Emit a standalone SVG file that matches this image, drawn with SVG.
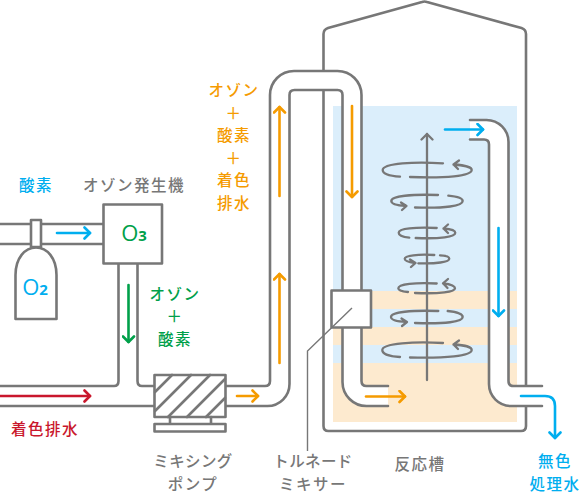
<svg xmlns="http://www.w3.org/2000/svg" width="582" height="494" viewBox="0 0 582 494">
<style>
.g{fill:none;stroke:#777;stroke-width:2.6;stroke-linecap:round;stroke-linejoin:round}
.gf{fill:#fff;stroke:#777;stroke-width:2.6;stroke-linejoin:round}
.w{fill:#fff;stroke:none}
.s{fill:none;stroke:#777;stroke-width:2.3;stroke-linecap:round;stroke-linejoin:round}
.a{fill:none;stroke-width:2.6;stroke-linecap:round;stroke-linejoin:round}
text{font-family:"Noto Sans CJK JP","Noto Sans",sans-serif;font-size:15.5px;font-weight:500;text-anchor:middle;letter-spacing:1.500px}
.tight{letter-spacing:.4px}
.tg{fill:#777}.tc{fill:#00aeef}.to{fill:#f59b00}.tn{fill:#00a04a}.tr{fill:#c9172c}
.en{font-family:"Open Sans","Noto Sans",sans-serif;font-size:22px;letter-spacing:0;font-weight:500}
.sub{font-size:15px;font-weight:700}
</style>
<defs>
<marker id="mo" markerUnits="userSpaceOnUse" markerWidth="14" markerHeight="14" refX="8.500" refY="7" orient="auto"><path d="M3 1.500L8.500 7L3 12.500" fill="none" stroke="#f59b00" stroke-width="2.6" stroke-linecap="round" stroke-linejoin="round"/></marker>
<marker id="mc" markerUnits="userSpaceOnUse" markerWidth="14" markerHeight="14" refX="8.500" refY="7" orient="auto"><path d="M3 1.500L8.500 7L3 12.500" fill="none" stroke="#00aeef" stroke-width="2.6" stroke-linecap="round" stroke-linejoin="round"/></marker>
<marker id="mn" markerUnits="userSpaceOnUse" markerWidth="14" markerHeight="14" refX="8.500" refY="7" orient="auto"><path d="M3 1.500L8.500 7L3 12.500" fill="none" stroke="#00a04a" stroke-width="2.6" stroke-linecap="round" stroke-linejoin="round"/></marker>
<marker id="mr" markerUnits="userSpaceOnUse" markerWidth="14" markerHeight="14" refX="8.500" refY="7" orient="auto"><path d="M3 1.500L8.500 7L3 12.500" fill="none" stroke="#c9172c" stroke-width="2.6" stroke-linecap="round" stroke-linejoin="round"/></marker>
<marker id="mg" markerUnits="userSpaceOnUse" markerWidth="14" markerHeight="14" refX="8.500" refY="7" orient="auto"><path d="M3 1.500L8.500 7L3 12.500" fill="none" stroke="#777" stroke-width="2.3" stroke-linecap="round" stroke-linejoin="round"/></marker>
</defs>
<rect width="582" height="494" fill="#fff"/>

<g id="reactor">
<path class="g" d="M323.500 75V34Q323.500 29.500 328 28L422 2Q424.500 1 427 2L521.500 28Q526 29.500 526 34V426Q526 431 521 431H328.500Q323.500 431 323.500 426V85"/>
<rect x="333" y="106" width="184" height="185" fill="#dbeefb"/>
<rect x="333" y="291" width="184" height="18" fill="#fdeacf"/>
<rect x="333" y="309" width="184" height="18" fill="#dbeefb"/>
<rect x="333" y="327" width="184" height="18" fill="#fdeacf"/>
<rect x="333" y="345" width="184" height="18" fill="#dbeefb"/>
<rect x="333" y="363" width="184" height="59" fill="#fdeacf"/>
</g>

<g id="piping">
<path class="w" d="M225 386H265Q270 386 270 381V95A24 24 0 0 1 294 71H337.500A24 24 0 0 1 361.500 95V381Q361.500 386 366.500 386H388V406H366.500A24 24 0 0 1 342.500 382V95Q342.500 90 337.500 90H294.500Q289.500 90 289.500 95V384A22 22 0 0 1 267.500 406H225Z"/>
<path class="w" d="M470 120H486.500A22 22 0 0 1 508.500 142V381Q508.500 386 513.500 386H542V406H511A22 22 0 0 1 489 384V144.500Q489 139.500 484 139.500H470Z"/>
<path class="g" d="M225 386H265Q270 386 270 381V95A24 24 0 0 1 294 71H337.500A24 24 0 0 1 361.500 95V290"/>
<path class="g" d="M225 406H267.500A22 22 0 0 0 289.500 384V95Q289.500 90 294.500 90H337.500Q342.500 90 342.500 95V290"/>
<path class="g" d="M361.500 327V381Q361.500 386 366.500 386H388"/>
<path class="g" d="M342.500 327V382A24 24 0 0 0 366.500 406H388"/>
<path class="g" d="M470 120H486.500A22 22 0 0 1 508.500 142V381Q508.500 386 513.500 386H542"/>
<path class="g" d="M470 139.500H484Q489 139.500 489 144.500V384A22 22 0 0 0 511 406H542"/>
<path class="g" d="M0 224H103M0 244H103"/>
<path class="g" d="M0 386H114Q118.500 386 118.500 381V263"/>
<path class="g" d="M137.500 263V381Q137.500 386 142 386H154"/>
<path class="g" d="M0 406H154"/>
</g>

<g id="tornado-mixer">
<rect class="gf" x="331.500" y="290.500" width="39.500" height="37"/>
<path d="M352 308L307.500 351V451" fill="none" stroke="#777" stroke-width="1.400"/>
</g>

<g id="agitator">
<path class="s" d="M427 380V134" marker-end="url(#mg)"/>
<path class="s" d="M443 163.300C415 161.500 383 163 382.700 170C382.700 174 390 176 400 176.700"/>
<path class="s" d="M410 177C445 178.500 471.700 176 471.700 170C471.700 167 463 165 453.500 164.500M459 160.500L453.500 164.500L458 169"/>
<path class="s" d="M438 195C412 194 391.300 196 391.300 201C391.300 204 397 205.500 406 206M402 210L406.500 206L401 202.500"/>
<path class="s" d="M415 207.500C445 208.500 462.700 206 462.700 201C462.700 198 457 196.500 448.300 195.700"/>
<path class="s" d="M436.700 228C415 227 398.700 228.500 398.700 232.700C398.700 235.500 403 237 409.300 237.700"/>
<path class="s" d="M415.700 238C440 239 455.300 237 455.300 232.700C455.300 230.500 450 229 443.500 228.500M448 224.500L443.500 228.500L448 233"/>
<path class="s" d="M434.300 255C418 254 404.700 255.500 404.700 258.700C404.700 260.500 408 262 415 263M411 267L415.500 263L410 259.500"/>
<path class="s" d="M418.300 263.300C436 264 449.300 262 449.300 258.700C449.300 256.500 446 255.500 440 255.300"/>
<path class="s" d="M436.700 283.500C415 282.500 398.300 284 398.300 288.300C398.300 290.500 402 291.500 408 292"/>
<path class="s" d="M415 293C440 294 455 292 455 288.300C455 286 450 284 443 283.300M448 279L443 283.300L447.500 288"/>
<path class="s" d="M438.300 311C412 310 391 312 391 317C391 320 397 321.500 406.700 322M402 326L407 322L401.500 318.500"/>
<path class="s" d="M415 323C445 324 462.700 322 462.700 317C462.700 314 457 312 447.700 311"/>
<path class="s" d="M443 343C415 341.500 382.300 343 382.300 350C382.300 354 390 356.500 400 357"/>
<path class="s" d="M410 357.500C445 358.500 471.700 356 471.700 350C471.700 347 464 345 453.500 344.500M459 340.500L453.500 344.500L458 349"/>
</g>

<g id="ozone-generator">
<rect class="gf" x="103.500" y="204.500" width="58.500" height="59"/>
<text class="en tn" x="134" y="241">O<tspan class="sub">3</tspan></text>
</g>

<g id="oxygen-cylinder">
<path class="gf" d="M15.500 319V275C15.500 258 25 247.500 36 247.500C47 247.500 56.500 258 56.500 275V319Z"/>
<rect class="gf" x="31" y="220" width="10" height="27"/>
<text class="en tc" x="35" y="295">O<tspan class="sub">2</tspan></text>
</g>

<g id="mixing-pump">
<rect class="gf" x="154.500" y="375" width="71" height="42"/>
<path class="g" d="M172 375L155 392M191 375L155 411M210 375L168 417M225 379L187 417M225 398L206 417"/>
<path class="g" d="M170 417V424M211 417V424"/>
<rect class="gf" x="154.500" y="424" width="71" height="7.500"/>
</g>

<g id="connectors">
<path class="a" stroke="#00aeef" d="M57 233H90" marker-end="url(#mc)"/>
<path class="a" stroke="#00a04a" d="M128.500 285V342" marker-end="url(#mn)"/>
<path class="a" stroke="#c9172c" d="M0 396H90" marker-end="url(#mr)"/>
<path class="a" stroke="#f59b00" d="M237 396H258" marker-end="url(#mo)"/>
<path class="a" stroke="#f59b00" d="M279.500 363V274" marker-end="url(#mo)"/>
<path class="a" stroke="#f59b00" d="M279.500 196V107" marker-end="url(#mo)"/>
<path class="a" stroke="#f59b00" d="M352 106V197" marker-end="url(#mo)"/>
<path class="a" stroke="#f59b00" d="M366 396.500H405" marker-end="url(#mo)"/>
<path class="a" stroke="#00aeef" d="M445 129.500H483" marker-end="url(#mc)"/>
<path class="a" stroke="#00aeef" d="M498.500 228V316" marker-end="url(#mc)"/>
<path class="a" stroke="#00aeef" d="M521 396H545Q555 396 555 406V438" marker-end="url(#mc)"/>
</g>

<g id="labels">
<text class="tc" x="36" y="191">酸素</text>
<text class="tg" x="134" y="191">オゾン発生機</text>
<text class="tn" x="175" y="299.500">オゾン</text>
<text class="tn" x="175" y="322">＋</text>
<text class="tn" x="175" y="344.500">酸素</text>
<text class="to" x="234" y="96">オゾン</text>
<text class="to" x="234" y="118.500">＋</text>
<text class="to" x="234" y="141">酸素</text>
<text class="to" x="234" y="163.500">＋</text>
<text class="to" x="234" y="186">着色</text>
<text class="to" x="234" y="208.500">排水</text>
<text class="tr" x="45" y="435">着色排水</text>
<text class="tg tight" x="193" y="467">ミキシング</text>
<text class="tg" x="193" y="489.500">ポンプ</text>
<text class="tg tight" x="313" y="467">トルネード</text>
<text class="tg" x="313" y="489.500">ミキサー</text>
<text class="tg" x="420" y="470">反応槽</text>
<text class="tc" x="555" y="467">無色</text>
<text class="tc" x="555" y="489.500">処理水</text>
</g>
</svg>
